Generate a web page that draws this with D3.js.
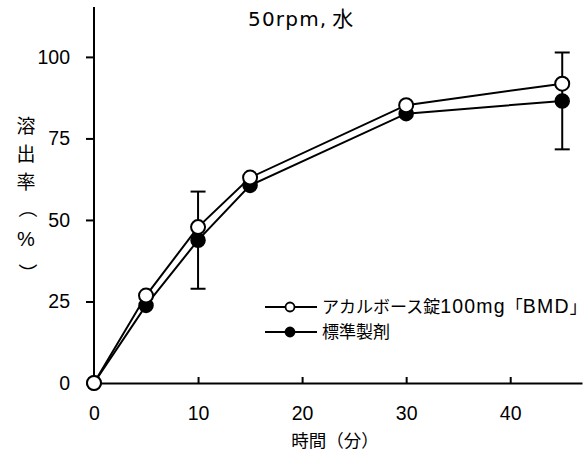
<!DOCTYPE html>
<html><head><meta charset="utf-8">
<script src="https://cdn.jsdelivr.net/npm/d3@7"></script>
<style>
body{margin:0;background:#fff;}
svg{display:block;}
text{font-family:"Liberation Sans","Noto Sans CJK JP",sans-serif;fill:#000;}
.cjk{font-family:"Noto Sans CJK JP",sans-serif;}
</style></head><body>
<svg id="c" width="586" height="463"></svg>
<script>
const times = [0, 5, 10, 15, 30, 45];
const testValues = [0, 26.8, 47.8, 63.0, 85.2, 91.8];
const refValues = [0, 23.8, 43.8, 60.6, 82.6, 86.5];
const refErrors = [0, 0, 14.9, 0, 0, 14.85];
const xTicks = [0, 10, 20, 30, 40];
const yTicks = [0, 25, 50, 75, 100];
// legend labels split into [text, isCJK] pieces
const seriesNames = [
  [["アカルボース錠", true], ["100mg", false], ["「", true], ["BMD", false], ["」", true]],
  [["標準製剤", true]]
];
const titleParts = [["50rpm,", false], [" 水", true]];
const xLabel = "時間（分）";
const yLabelChars = ["溶", "出", "率", "（", "%", "）"];

const svg = d3.select("#c");
const x = d3.scaleLinear().domain([0, 46.9]).range([94, 582]);
const y = d3.scaleLinear().domain([0, 115.3]).range([383, 7]);

// axes
const yAxis = d3.axisLeft(y).tickValues(yTicks).tickSize(8).tickPadding(16);
const gy = svg.append("g").attr("transform", `translate(${x(0)},0)`).call(yAxis);
gy.select(".domain").attr("stroke-width", 2).attr("d", `M0,${y(0)}V${y.range()[1]}`);
gy.selectAll(".tick line").attr("stroke-width", 2);
gy.selectAll(".tick text").attr("font-size", 19.5).attr("font-family", "Liberation Sans");

const xAxis = d3.axisBottom(x).tickValues(xTicks).tickSizeInner(-6).tickSizeOuter(0).tickPadding(23);
const gx = svg.append("g").attr("transform", `translate(0,${y(0)})`).call(xAxis);
gx.select(".domain").attr("stroke-width", 2);
gx.selectAll(".tick line").attr("stroke-width", 2);
gx.selectAll(".tick text").attr("font-size", 19.5).attr("font-family", "Liberation Sans");

// title
const tt = svg.append("text").attr("x", 248).attr("y", 26);
titleParts.forEach(([t, cjk]) => {
  const s = tt.append("tspan").text(t);
  if (cjk) s.attr("class", "cjk").attr("font-size", 21);
  else s.attr("font-family", "DejaVu Sans").attr("font-size", 20).attr("letter-spacing", 1.2);
});
// x label
svg.append("text").attr("x", 335).attr("y", 447).attr("text-anchor", "middle")
  .attr("class", "cjk").attr("font-size", 17.5).text(xLabel);
// y label (stacked vertically; brackets turned to vertical form)
svg.append("g").selectAll("text").data(yLabelChars).join("text")
  .attr("text-anchor", "middle").attr("dy", "0.36em")
  .attr("class", d => d === "%" ? null : "cjk")
  .attr("transform", (d, i) => {
    const cy = 126 + i * 28.2;
    if (d === "（") return `translate(27,${cy - 2}) rotate(90)`;
    if (d === "）") return `translate(27,${cy + 6}) rotate(90)`;
    return `translate(26,${cy})`;
  })
  .attr("font-size", d => d === "%" ? 20 : 19).text(d => d);

const line = d3.line().x((d, i) => x(times[i])).y(d => y(d));
// error bars
const eb = svg.append("g").attr("stroke", "#000").attr("stroke-width", 2);
refValues.forEach((v, i) => {
  const e = refErrors[i];
  if (!e) return;
  const cx = x(times[i]);
  eb.append("line").attr("x1", cx).attr("x2", cx).attr("y1", y(v + e)).attr("y2", y(v - e));
  eb.append("line").attr("x1", cx - 7.5).attr("x2", cx + 7.5).attr("y1", y(v + e)).attr("y2", y(v + e));
  eb.append("line").attr("x1", cx - 7.5).attr("x2", cx + 7.5).attr("y1", y(v - e)).attr("y2", y(v - e));
});

svg.append("path").attr("d", line(refValues)).attr("fill", "none").attr("stroke", "#000").attr("stroke-width", 2);
svg.append("path").attr("d", line(testValues)).attr("fill", "none").attr("stroke", "#000").attr("stroke-width", 2);

svg.append("g").selectAll("circle").data(refValues).join("circle")
  .attr("cx", (d, i) => x(times[i])).attr("cy", d => y(d)).attr("r", 7)
  .attr("fill", "#000").attr("stroke", "#000").attr("stroke-width", 1.5);
svg.append("g").selectAll("circle").data(testValues).join("circle")
  .attr("cx", (d, i) => x(times[i])).attr("cy", d => y(d)).attr("r", 7)
  .attr("fill", "#fff").attr("stroke", "#000").attr("stroke-width", 2);

// legend
const leg = svg.append("g");
seriesNames.forEach((parts, i) => {
  const ly = 307 + i * 25;
  leg.append("line").attr("x1", 265).attr("x2", 317).attr("y1", ly).attr("y2", ly)
    .attr("stroke", "#000").attr("stroke-width", 2);
  leg.append("circle").attr("cx", 290).attr("cy", ly).attr("r", 4.5)
    .attr("fill", i === 0 ? "#fff" : "#000").attr("stroke", "#000").attr("stroke-width", 1.8);
  const t = leg.append("text").attr("x", 322).attr("y", ly + 6);
  parts.forEach(([s, cjk]) => {
    const sp = t.append("tspan").text(s);
    if (cjk) sp.attr("class", "cjk").attr("font-size", 17);
    else sp.attr("font-family", "Liberation Sans").attr("font-size", 19.5).attr("letter-spacing", 1.2);
  });
});
</script></body></html>
